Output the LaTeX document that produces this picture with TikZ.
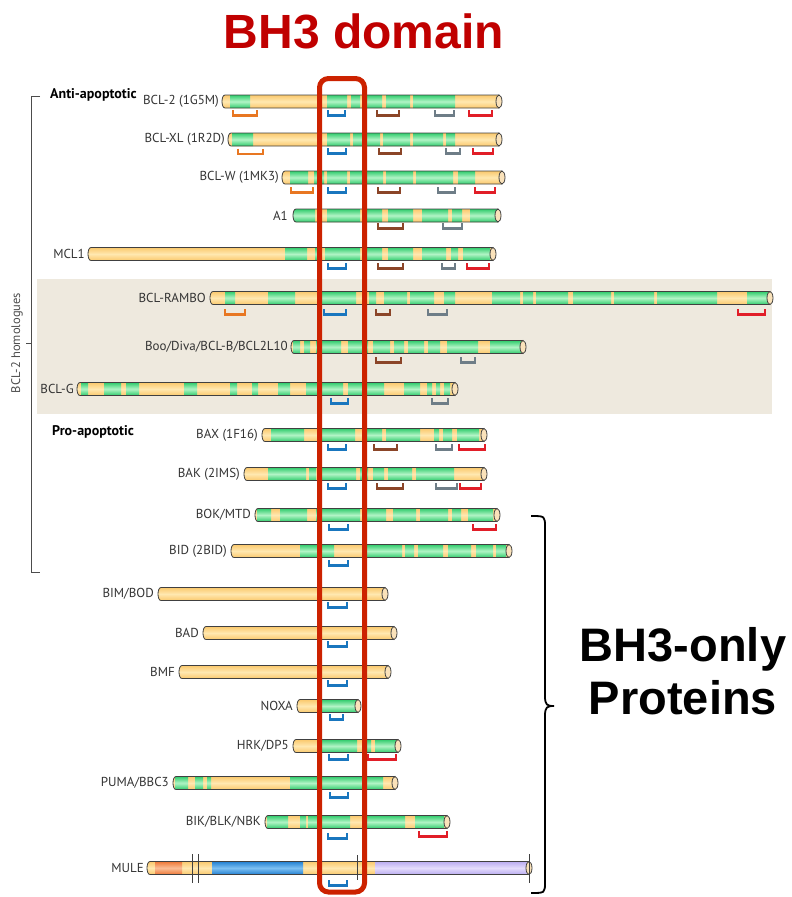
\documentclass[tikz,border=0pt]{standalone}
\usepackage{fontspec}
\setmainfont{PT Sans}
\newfontfamily\headfont{Liberation Sans}
\usetikzlibrary{positioning}

\definecolor{ylwD}{RGB}{250,198,104}
\definecolor{ylwL}{RGB}{255,232,176}
\definecolor{grnD}{RGB}{48,204,108}
\definecolor{grnL}{RGB}{178,244,198}
\definecolor{orgD}{RGB}{238,120,55}
\definecolor{orgL}{RGB}{250,190,150}
\definecolor{bluD}{RGB}{35,128,210}
\definecolor{bluL}{RGB}{125,192,242}
\definecolor{lavD}{RGB}{186,172,240}
\definecolor{lavL}{RGB}{228,220,252}
\definecolor{capcol}{RGB}{250,226,186}
\definecolor{panel}{RGB}{238,233,222}
\definecolor{cO}{RGB}{232,119,34}
\definecolor{cB}{RGB}{25,118,190}
\definecolor{cN}{RGB}{139,69,40}
\definecolor{cG}{RGB}{110,125,135}
\definecolor{cR}{RGB}{225,30,40}
\definecolor{frameRed}{RGB}{204,34,0}
\definecolor{titleRed}{RGB}{192,0,0}

\tikzset{
  yseg/.style={top color=ylwD, bottom color=ylwD, middle color=ylwL},
  gseg/.style={top color=grnD, bottom color=grnD, middle color=grnL},
  oseg/.style={top color=orgD, bottom color=orgD, middle color=orgL},
  bseg/.style={top color=bluD, bottom color=bluD, middle color=bluL},
  lseg/.style={top color=lavD, bottom color=lavD, middle color=lavL},
  barline/.style={draw=black!75, line width=0.8},
  brkline/.style={line width=2.4},
  lbl/.style={anchor=east, inner sep=1, text=black!80, font=\fontsize{13}{15}\selectfont},
  grp/.style={anchor=base west, inner sep=0, font=\bfseries\fontsize{14}{16}\selectfont},
  bigtxt/.style={anchor=base, inner sep=0, font=\headfont\bfseries\fontsize{47}{53}\selectfont}
}

% segments of one bar, in the bar's row \rowy
\newcommand{\segs}[2][gseg]{\foreach \ga/\gb in {#2} {\shade[#1] (\ga,\rowy-6.5) rectangle (\gb,\rowy+6.5);}}
% bar: row y, start x, end x, segments
\newcommand{\protbar}[4]{%
  \def\rowy{#1}%
  \begin{scope}
    \clip (#2+3,#1-6.5) -- (#3,#1-6.5) -- (#3,#1+6.5) -- (#2+3,#1+6.5) .. controls (#2-1,#1+6.5) and (#2-1,#1-6.5) .. (#2+3,#1-6.5) -- cycle;
    \shade[yseg] (#2-2,#1-7) rectangle (#3+1,#1+7);
    #4
  \end{scope}
  \draw[barline] (#3,#1-6.5) -- (#2+3,#1-6.5) .. controls (#2-1,#1-6.5) and (#2-1,#1+6.5) .. (#2+3,#1+6.5) -- (#3,#1+6.5);
  \filldraw[barline, fill=capcol] (#3,#1) ellipse [x radius=3, y radius=6.5];
}
\newcommand{\brk}[4]{\draw[brkline,#1] (#3,#2) -- (#3,#2+5.5) -- (#4,#2+5.5) -- (#4,#2);}

\begin{document}
\begin{tikzpicture}[x=1pt, y=-1pt]
\useasboundingbox (0,0) rectangle (792,897);

\fill[panel] (37,279) rectangle (772,414);

\node[font=\headfont\bfseries\fontsize{48}{54}\selectfont, text=titleRed, anchor=base, inner sep=0] (title) at (364,48) {BH3 domain};

\node[grp] (anti) at (50,98) {Anti-apoptotic};
\node[grp] (pro) at (52,435) {Pro-apoptotic};
\node[rotate=90, text=black!70, font=\fontsize{12.5}{14}\selectfont] (homol) at (17,343) {BCL-2 homologues};
\draw[black!70, line width=0.8] (40,96) -- (31,96) -- (31,572) -- (40,572);
\draw[black!70, line width=0.8] (31,343) -- (26,343);

\node[lbl] (bcl2) at (220,101.5) {BCL-2 (1G5M)};
\protbar{101.5}{222}{499}{\segs{230/250,327/347,351/360,367/382,386/410,413/455}}
\brk{cO}{110}{233}{257} \brk{cB}{110}{328}{345} \brk{cN}{110}{377}{399} \brk{cG}{110}{435}{454} \brk{cR}{110}{469}{492}

\node[lbl] (bclxl) at (226,139.5) {BCL-XL (1R2D)};
\protbar{139.5}{228}{499}{\segs{232/253,327/350,353/362,367/380,383/410,413/443,446/455}}
\brk{cO}{148.5}{238}{263} \brk{cB}{148}{328}{346} \brk{cN}{148}{379}{401} \brk{cG}{148}{446}{460} \brk{cR}{148}{473}{493}

\node[lbl] (bclw) at (280,177.5) {BCL-W (1MK3)};
\protbar{177.5}{282}{502}{\segs{290/308,314/324,327/347,350/363,367/383,386/413,416/453,458/475}}
\brk{cO}{187}{291}{313} \brk{cB}{187}{328}{346} \brk{cN}{187}{378}{400} \brk{cG}{187}{438}{455} \brk{cR}{187}{475}{495}

\node[lbl] (aone) at (289,215.5) {A1};
\protbar{215.5}{293}{498}{\segs{290/315,327/360,367/382,388/413,422/448,452/462,470/500}}
\brk{cN}{223}{378}{403} \brk{cG}{223}{443}{462}

\node[lbl] (mcl1) at (86,254) {MCL1};
\protbar{254}{88}{493}{\segs{285/307,315/320,325/360,367/382,388/413,422/446,451/458,463/490}}
\brk{cB}{263}{328}{346} \brk{cN}{263}{378}{403} \brk{cG}{263}{442}{455} \brk{cR}{263}{467}{489}

\node[lbl] (rambo) at (207,298) {BCL-RAMBO};
\protbar{298}{210}{770}{\segs{225/235,268/295,321/356,369/376,384/407,410/434,444/455,492/520,523/533,536/568,573/611,614/654,657/717,747/768}}
\brk{cO}{309}{225}{245} \brk{cB}{309}{324}{346} \brk{cN}{309}{376}{390} \brk{cG}{309}{428}{447} \brk{cR}{309}{738}{765}

\node[lbl] (boo) at (289,347) {Boo/Diva/BCL-B/BCL2L10};
\protbar{347}{291}{523}{\segs{293/300,304/310,316/341,348/368,373/390,394/404,408/424,428/440,447/478,490/521}}
\brk{cN}{357}{376}{401} \brk{cG}{357}{461}{475}

\node[lbl] (bclg) at (75,389) {BCL-G};
\protbar{389}{77}{455}{\segs{81/88,104/121,126/139,184/197,230/237,252/258,278/290,306/343,348/384,404/420,427/432,436/440,444/450}}
\brk{cB}{398}{331}{348} \brk{cG}{398}{432}{448}

\node[lbl] (bax) at (259,435) {BAX (1F16)};
\protbar{435}{262}{484}{\segs{271/304,321/355,364/382,386/420,434/439,443/452,457/479}}
\brk{cB}{444}{328}{346} \brk{cN}{444}{374}{397} \brk{cG}{444}{436}{452} \brk{cR}{444}{459}{485}

\node[lbl] (bak) at (241,474) {BAK (2IMS)};
\protbar{474}{244}{484}{\segs{268/306,309/316,321/356,360/368,373/384,388/412,416/454}}
\brk{cB}{483}{328}{346} \brk{cN}{483}{377}{403} \brk{cG}{483}{436}{457} \brk{cR}{483}{460}{481}

\node[lbl] (bok) at (252,515) {BOK/MTD};
\protbar{515}{255}{497}{\segs{257/271,280/307,316/360,363/386,393/416,420/448,452/461,468/493}}
\brk{cB}{524}{329}{348} \brk{cR}{524}{473}{496}

\node[lbl] (bid) at (228,551) {BID (2BID)};
\protbar{551}{231}{509}{\segs{300/334,366/402,405/414,418/443,448/471,476/493,496/506}}
\brk{cB}{560}{329}{348}

\node[lbl] (bim) at (155,594) {BIM/BOD};
\protbar{594}{158}{385}{}
\brk{cB}{602}{328}{347}

\node[lbl] (bad) at (200,633) {BAD};
\protbar{633}{203}{394}{}
\brk{cB}{641}{328}{347}

\node[lbl] (bmf) at (176,672) {BMF};
\protbar{672}{179}{388}{}
\brk{cB}{680}{328}{347}

\node[lbl] (noxa) at (294,706) {NOXA};
\protbar{706}{297}{358}{\segs{322/358}}
\brk{cB}{714}{330}{343}

\node[lbl] (hrk) at (290,746) {HRK/DP5};
\protbar{746}{293}{398}{\segs{322/357,363/371,375/396}}
\brk{cB}{754}{329}{348} \brk{cR}{754}{368}{396}

\node[lbl] (puma) at (170,783) {PUMA/BBC3};
\protbar{783}{173}{395}{\segs{175/188,195/203,207/211,290/320,322/383}}
\brk{cB}{792}{330}{348}

\node[lbl] (bik) at (262,822) {BIK/BLK/NBK};
\protbar{822}{265}{447}{\segs{267/288,300/306,308/350,363/405,415/444}}
\brk{cB}{833}{328}{347} \brk{cR}{831}{419}{447}

\node[lbl] (mule) at (145,868) {MULE};
\protbar{868}{147}{529}{\segs[oseg]{155/182}\segs[bseg]{212/303}\segs[lseg]{375/527}}
\brk{cB}{880}{329}{347}
\draw[black!75, line width=0.8] (192,854) -- (192,883) (198,854) -- (198,883) (357,855) -- (357,880) (529,854) -- (529,883);

\draw[frameRed, line width=5, rounded corners=9] (319.5,78.5) rectangle (364.5,892);

\draw[line width=1.8] (531,516) .. controls (545,516) .. (545,527) -- (545,696) .. controls (545,705) and (547,706) .. (554,706) .. controls (547,706) and (545,707) .. (545,716) -- (545,882) .. controls (545,893) .. (531,893);
\node[bigtxt] (only) at (683,661) {BH3-only};
\node[bigtxt] (prot) at ([yshift=-53pt]only.base) {Proteins};
\end{tikzpicture}
\end{document}
